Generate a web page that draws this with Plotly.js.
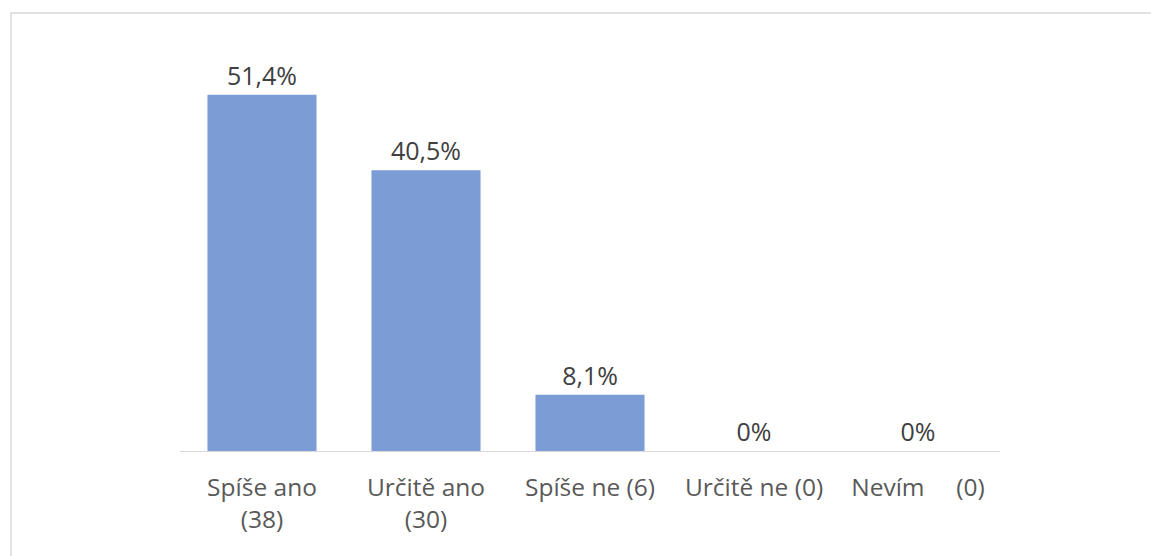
<!DOCTYPE html>
<html>
<head>
<meta charset="utf-8">
<script src="https://cdn.plot.ly/plotly-3.0.1.min.js"></script>
<style>html,body{margin:0;padding:0;background:#fff;}</style>
</head>
<body>
<div id="chart" style="width:1151px;height:556px;"></div>
<script>
var categories = ["Spíše ano<br>(38)", "Určitě ano<br>(30)", "Spíše ne (6)", "Určitě ne (0)", "Nevím\u00a0\u00a0\u00a0\u00a0\u00a0(0)"];
var values = [51.4, 40.5, 8.1, 0, 0];
var labels = ["51,4%", "40,5%", "8,1%", "0%", "0%"];

var L = 180, R = 1000, B = 451, T = 35, W = 1151, H = 556;
var trace = {
  type: "bar",
  x: categories,
  y: values,
  text: labels,
  textposition: "outside",
  cliponaxis: false,
  textfont: {family: "Open Sans", size: 25, color: "#404040"},
  marker: {color: "#7C9CD5"},
  hoverinfo: "none"
};
var layout = {
  width: W, height: H,
  margin: {l: L, r: W - R, t: T, b: H - B},
  paper_bgcolor: "#fff", plot_bgcolor: "#fff",
  bargap: 0.335,
  showlegend: false,
  font: {family: "Open Sans", size: 25, color: "#595959"},
  xaxis: {
    showline: true, linecolor: "#D9D9D9", linewidth: 1,
    ticks: "", showgrid: false, zeroline: false,
    tickfont: {family: "Open Sans", size: 24.5, color: "#595959"},
    ticklabelstandoff: 15,
    tickangle: 0, automargin: false
  },
  yaxis: {
    range: [0, 60], visible: false, showgrid: false, zeroline: false, fixedrange: true
  },
  shapes: [{
    type: "rect", xref: "paper", yref: "paper",
    x0: (11 - L) / (R - L), x1: (1160 - L) / (R - L),
    y0: (B - 570) / (B - T), y1: (B - 13) / (B - T),
    line: {color: "#D9D9D9", width: 1.5}, fillcolor: "rgba(0,0,0,0)", layer: "below"
  }]
};
Plotly.newPlot("chart", [trace], layout, {staticPlot: true, displayModeBar: false});
</script>
</body>
</html>
